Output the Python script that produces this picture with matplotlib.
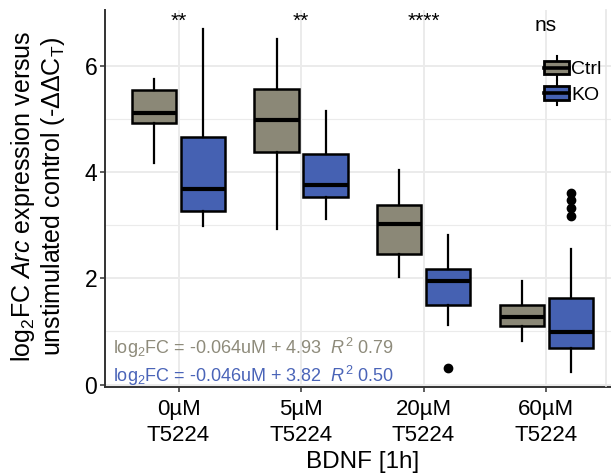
import matplotlib
matplotlib.use("Agg")
import matplotlib.pyplot as plt
from matplotlib.patches import Patch, Rectangle
from matplotlib.lines import Line2D
from matplotlib.legend_handler import HandlerBase

plt.rcParams['font.family'] = ['Liberation Sans', 'DejaVu Sans']
plt.rcParams['mathtext.fontset'] = 'custom'
plt.rcParams['mathtext.rm'] = 'Liberation Sans'
plt.rcParams['mathtext.it'] = 'Liberation Sans:italic'
plt.rcParams['mathtext.bf'] = 'Liberation Sans:bold'

# ---------------- data ----------------
categories = ['0µM\nT5224', '5µM\nT5224', '20µM\nT5224', '60µM\nT5224']
groups = ['Ctrl', 'KO']

ctrl_whislo = [4.17, 2.93, 2.02, 0.81]
ctrl_q1 = [4.92, 4.38, 2.45, 1.11]
ctrl_med = [5.12, 4.98, 3.02, 1.27]
ctrl_q3 = [5.55, 5.57, 3.38, 1.49]
ctrl_whishi = [5.75, 6.51, 4.04, 1.94]
ctrl_fliers = [[], [], [], []]

ko_whislo = [2.98, 3.12, 1.12, 0.24]
ko_q1 = [3.27, 3.53, 1.49, 0.68]
ko_med = [3.68, 3.76, 1.95, 0.99]
ko_q3 = [4.66, 4.34, 2.18, 1.62]
ko_whishi = [6.69, 5.14, 2.82, 2.55]
ko_fliers = [[], [], [0.32], [3.60, 3.47, 3.32, 3.17]]

significance = ['**', '**', '****', 'ns']

eq_slopes = ['-0.064', '-0.046']
eq_intercepts = ['4.93', '3.82']
eq_r2 = ['0.79', '0.50']

yticks = [0, 2, 4, 6]

# ---------------- style ----------------
ctrl_color = '#8B8877'
ko_color = '#4561B2'
ctrl_text = '#8E8B7B'
ko_text = '#4A64B8'
grid_color = '#EBEBEB'

W, H = 611, 473
fig = plt.figure(figsize=(W / 100, H / 100), dpi=100)
ax_left, ax_bottom_px, ax_top_px, ax_w = 105, 387, 10, 514.6
ax = fig.add_axes([ax_left / W, (H - ax_bottom_px) / H, ax_w / W,
                   (ax_bottom_px - ax_top_px) / H])

n = len(categories)
xs = list(range(1, n + 1))
off = 0.2
bw = 0.36


def make_stats(lo, q1, med, q3, hi, fl):
    return [dict(whislo=a, q1=b, med=c, q3=d, whishi=e, fliers=f)
            for a, b, c, d, e, f in zip(lo, q1, med, q3, hi, fl)]


common = dict(widths=bw, patch_artist=True, showcaps=False, manage_ticks=False,
              medianprops=dict(color='black', linewidth=3.0, solid_capstyle='butt'),
              whiskerprops=dict(color='black', linewidth=1.6),
              flierprops=dict(marker='o', markerfacecolor='black',
                              markeredgecolor='black', markersize=6))

ax.bxp(make_stats(ctrl_whislo, ctrl_q1, ctrl_med, ctrl_q3, ctrl_whishi, ctrl_fliers),
       positions=[x - off for x in xs],
       boxprops=dict(facecolor=ctrl_color, edgecolor='black', linewidth=1.8),
       **common)
ax.bxp(make_stats(ko_whislo, ko_q1, ko_med, ko_q3, ko_whishi, ko_fliers),
       positions=[x + off for x in xs],
       boxprops=dict(facecolor=ko_color, edgecolor='black', linewidth=1.8),
       **common)

ax.set_xlim(0.4, n + 0.6)
ax.set_ylim(-0.047, 7.05)
ax.set_xticks(xs)
ax.set_xticklabels(categories, fontsize=16, linespacing=1.3)
ax.set_yticks(yticks)
ax.set_yticklabels([str(v) for v in yticks], fontsize=16.5)
ax.set_yticks([1, 3, 5], minor=True)
ax.tick_params(axis='both', which='major', length=3.5, width=1.1, color='#333333', pad=2)
ax.tick_params(axis='x', which='major', pad=5)
ax.tick_params(axis='y', which='minor', length=0)

ax.set_axisbelow(True)
ax.grid(True, which='major', color=grid_color, linewidth=1.4)
ax.grid(True, which='minor', axis='y', color=grid_color, linewidth=0.8)

for s in ['top', 'right']:
    ax.spines[s].set_visible(False)
for s in ['left', 'bottom']:
    ax.spines[s].set_color('#333333')
    ax.spines[s].set_linewidth(1.4)

ax.set_xlabel('BDNF [1h]', fontsize=17.5, labelpad=4)
ax.set_ylabel(r'log$_2$FC $\mathit{Arc}$ expression versus' + '\n' +
              r'unstimulated control (-ΔΔC$_\mathrm{T}$)', fontsize=18, linespacing=1.1)
ax.yaxis.set_label_coords(-0.13, 0.505)
ax.yaxis.label.set_verticalalignment('center')

# significance
for x, s in zip(xs, significance):
    if s == 'ns':
        ax.text(x, 6.76, s, ha='center', va='center', fontsize=15)
    else:
        ax.text(x, 6.84, s, ha='center', va='center', fontsize=15)

# equations
ax.text(0.0155, 0.103,
        f'log$_2$FC = {eq_slopes[0]}uM + {eq_intercepts[0]}  $R^2$ {eq_r2[0]}',
        transform=ax.transAxes, color=ctrl_text, fontsize=13, ha='left', va='center')
ax.text(0.0155, 0.029,
        f'log$_2$FC = {eq_slopes[1]}uM + {eq_intercepts[1]}  $R^2$ {eq_r2[1]}',
        transform=ax.transAxes, color=ko_text, fontsize=13, ha='left', va='center')


# legend with boxplot-like keys
class BoxKey(HandlerBase):
    def create_artists(self, legend, orig_handle, xdescent, ydescent, width,
                       height, fontsize, trans):
        x0, y0 = -xdescent, -ydescent
        bh = height * 0.78
        by = y0 + (height - bh) / 2
        rect = Rectangle((x0, by), width, bh, facecolor=orig_handle.get_facecolor(),
                         edgecolor='black', linewidth=2.0, transform=trans)
        med = Line2D([x0, x0 + width], [y0 + height / 2] * 2, color='black',
                     linewidth=2.6, transform=trans)
        wt = Line2D([x0 + width / 2] * 2, [by + bh, y0 + height + 2.5], color='black',
                    linewidth=1.5, transform=trans)
        wb = Line2D([x0 + width / 2] * 2, [by, y0 - 2.5], color='black',
                    linewidth=1.5, transform=trans)
        return [wt, wb, rect, med]


handles = [Patch(facecolor=ctrl_color), Patch(facecolor=ko_color)]
leg = ax.legend(handles, groups, handler_map={Patch: BoxKey()},
                loc='upper left', bbox_to_anchor=(544 / W, 1 - 59 / H),
                bbox_transform=fig.transFigure, frameon=False, fontsize=14,
                handlelength=1.3, handleheight=1.0, handletextpad=0.1,
                labelspacing=0.32, borderpad=0, borderaxespad=0)

# faint panel border at right edge
fig.add_artist(Line2D([606 / W, 606 / W], [1 - 10 / H, 1 - 386 / H],
                      color='#E6E6E6', linewidth=1.2))

fig.savefig('out.png', dpi=100)
